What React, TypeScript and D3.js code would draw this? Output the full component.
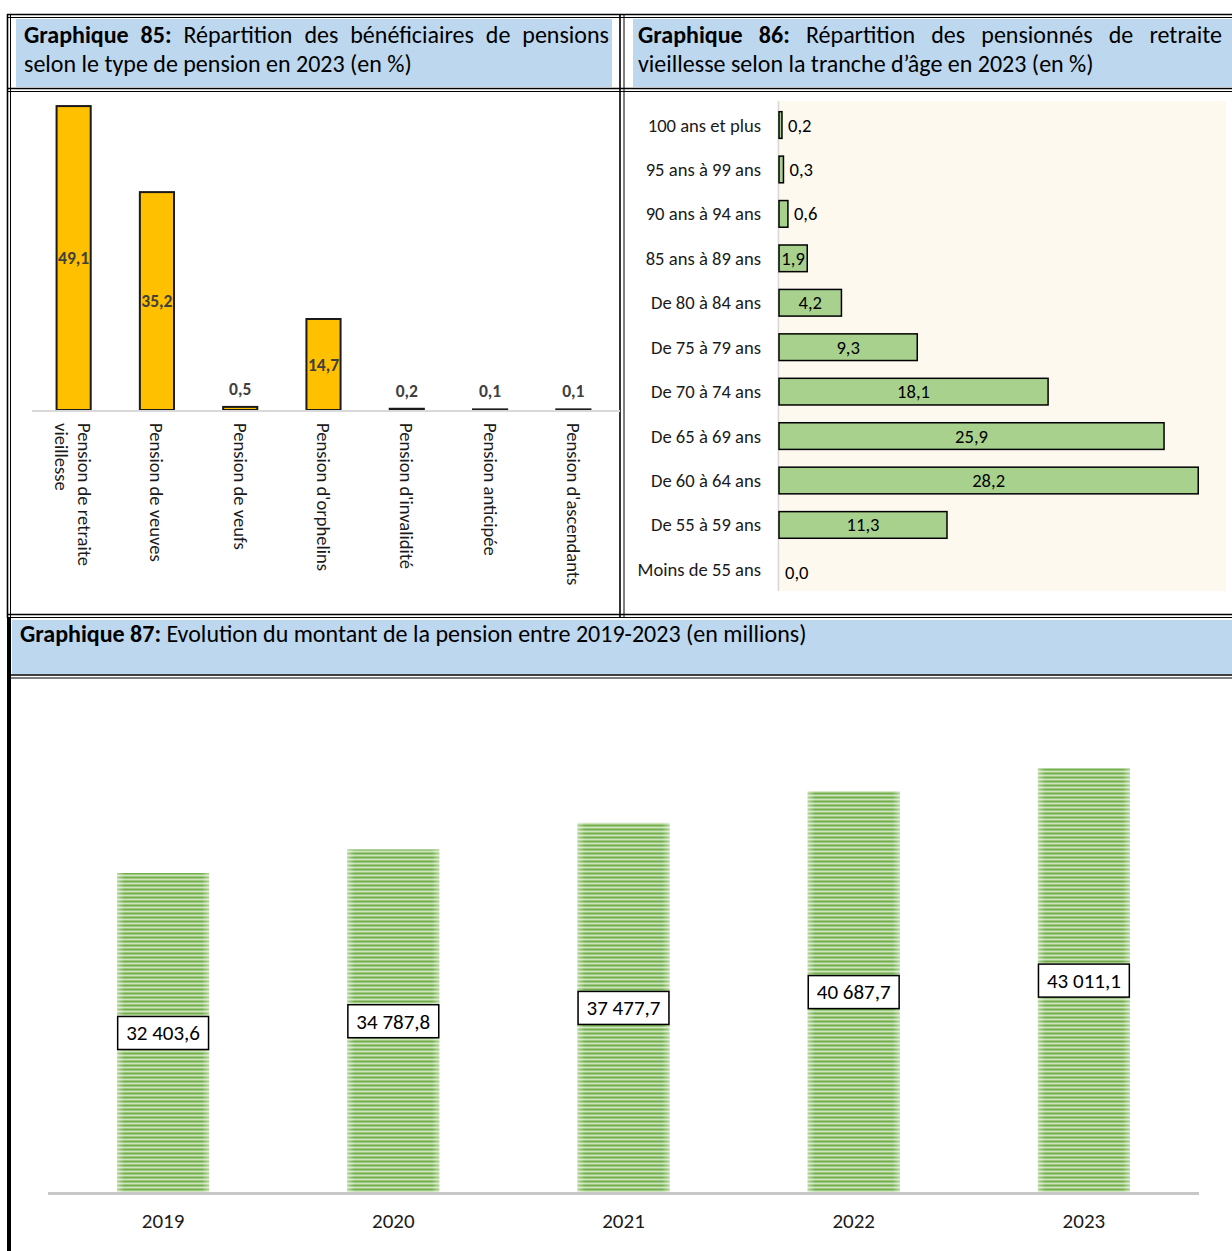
import React, { useEffect, useRef } from "react";
import * as d3 from "d3";

// ---------- DATA ----------
const typeCategories = [
  "Pension de retraite vieillesse",
  "Pension de veuves",
  "Pension de veufs",
  "Pension d'orphelins",
  "Pension d'invalidité",
  "Pension anticipée",
  "Pension d'ascendants",
];
const typeValues = [49.1, 35.2, 0.5, 14.7, 0.2, 0.1, 0.1];

const ageCategories = [
  "100 ans et plus",
  "95 ans à 99 ans",
  "90 ans à 94 ans",
  "85 ans à 89 ans",
  "De 80 à 84 ans",
  "De 75 à 79 ans",
  "De 70 à 74 ans",
  "De 65 à 69 ans",
  "De 60 à 64 ans",
  "De 55 à 59 ans",
  "Moins de 55 ans",
];
const ageValues = [0.2, 0.3, 0.6, 1.9, 4.2, 9.3, 18.1, 25.9, 28.2, 11.3, 0.0];

const years = ["2019", "2020", "2021", "2022", "2023"];
const amounts = [32403.6, 34787.8, 37477.7, 40687.7, 43011.1];

const title85 = ["Graphique 85:", " Répartition des bénéficiaires de pensions", "selon le type de pension en 2023 (en %)"];
const title86 = ["Graphique 86:", " Répartition des pensionnés de retraite", "vieillesse selon la tranche d’âge en 2023 (en %)"];
const title87 = ["Graphique 87:", " Evolution du montant de la pension entre 2019-2023 (en millions)"];

// ---------- STYLE ----------
const FONT = "Carlito, Calibri, Lato, 'Open Sans', sans-serif";
const BLUE = "#bdd7ee";
const fr = d3.formatLocale({ decimal: ",", thousands: " ", grouping: [3], currency: ["", " €"] });
const f1 = fr.format(".1f");
const fAmt = fr.format(",.1f");

function wrap(label: string, maxChars: number): string[] {
  const words = label.split(" ");
  const lines: string[] = [];
  let cur = "";
  words.forEach((w) => {
    const t = cur ? cur + " " + w : w;
    if (t.length > maxChars && cur) {
      lines.push(cur);
      cur = w;
    } else cur = t;
  });
  if (cur) lines.push(cur);
  return lines;
}

export default function App() {
  const ref = useRef<SVGSVGElement>(null);

  useEffect(() => {
    const run = () => {
      const svg = d3.select(ref.current);
      svg.selectAll<SVGTextElement, unknown>("text[data-jw]").each(function () {
        const el = this;
        const target = +(el.getAttribute("data-jw") || 0);
        el.setAttribute("word-spacing", "0");
        const natural = el.getComputedTextLength();
        const spaces = (el.textContent || "").split(" ").length - 1;
        if (spaces > 0) el.setAttribute("word-spacing", String((target - natural) / spaces));
      });
      svg.selectAll<SVGGElement, unknown>("g.vbox").each(function () {
        const g = d3.select(this);
        const t = g.select<SVGTextElement>("text").node();
        if (!t) return;
        const bb = t.getBBox();
        const cy = +(g.attr("data-cy") || 0);
        g.select("rect")
          .attr("x", bb.x - 8.5)
          .attr("width", bb.width + 17)
          .attr("y", cy - 16.5)
          .attr("height", 33);
      });
    };
    if ((document as any).fonts && (document as any).fonts.ready) {
      (document as any).fonts.ready.then(run);
    }
    run();
  }, []);

  // ----- Chart 85 scales -----
  const x85 = d3.scaleBand<string>().domain(typeCategories).range([32, 615]).paddingInner(0.59).paddingOuter(0.295);
  const y85 = d3.scaleLinear().domain([0, 50]).range([410, 100.5]);

  // ----- Chart 86 scales -----
  const y86 = d3.scaleBand<string>().domain(ageCategories).range([102.8, 591.6]).paddingInner(0.4).paddingOuter(0.2);
  const x86 = d3.scaleLinear().domain([0, 30]).range([779, 1225]);

  // ----- Chart 87 scales -----
  const x87 = d3.scaleBand<string>().domain(years).range([48, 1199]).paddingInner(0.6).paddingOuter(0.3);
  const y87 = d3.scaleLinear().domain([0, 50000]).range([1193, 699.2]);

  const dbl = (x1: number, y1: number, x2: number, y2: number, gap = 3) => {
    const horiz = y1 === y2;
    return (
      <g>
        <line x1={x1} y1={y1} x2={x2} y2={y2} stroke="#000" strokeWidth={1.6} />
        <line
          x1={horiz ? x1 : x1 + gap}
          y1={horiz ? y1 + gap : y1}
          x2={horiz ? x2 : x2 + gap}
          y2={horiz ? y2 + gap : y2}
          stroke="#000"
          strokeWidth={1}
        />
      </g>
    );
  };

  const TF = 24; // title font
  const LF = 18.6; // label font

  return (
    <div style={{ position: "absolute", left: 0, top: 0 }}>
      <svg ref={ref} width={1232} height={1251} style={{ display: "block", fontFamily: FONT }}>
        <defs>
          <pattern id="stripes" patternUnits="userSpaceOnUse" width={8} height={4}>
            <rect x={0} y={0} width={8} height={4} fill="#cde5bd" />
            <rect x={0} y={0.5} width={8} height={2} fill="#72ae4a" />
          </pattern>
          <linearGradient id="edgeFade" x1="0" x2="1" y1="0" y2="0">
            <stop offset="0" stopColor="#fff" stopOpacity={0.45} />
            <stop offset="0.08" stopColor="#fff" stopOpacity={0} />
            <stop offset="0.92" stopColor="#fff" stopOpacity={0} />
            <stop offset="1" stopColor="#fff" stopOpacity={0.45} />
          </linearGradient>
        </defs>
        <rect x={0} y={0} width={1232} height={1251} fill="#fff" />

        {/* header backgrounds */}
        <rect x={16} y={19} width={596} height={68} fill={BLUE} />
        <rect x={633} y={19} width={599} height={68} fill={BLUE} />
        <rect x={12} y={620} width={1220} height={54} fill={BLUE} />

        {/* borders */}
        {dbl(7, 14.5, 1232, 14.5)}
        {dbl(7, 88.5, 1232, 88.5)}
        {dbl(7, 614.5, 1232, 614.5)}
        {dbl(7, 675, 1232, 675)}
        {dbl(7.5, 14, 7.5, 618)}
        {dbl(620, 14, 620, 618, 4)}
        <line x1={9} y1={618} x2={9} y2={1251} stroke="#000" strokeWidth={4} />

        {/* titles */}
        <text x={24} y={43} fontSize={TF} fill="#000" data-jw={585}>
          <tspan fontWeight="bold">{title85[0]}</tspan>
          <tspan>{title85[1]}</tspan>
        </text>
        <text x={24} y={72} fontSize={TF} fill="#000">{title85[2]}</text>
        <text x={638} y={43} fontSize={TF} fill="#000" data-jw={584}>
          <tspan fontWeight="bold">{title86[0]}</tspan>
          <tspan>{title86[1]}</tspan>
        </text>
        <text x={638} y={72} fontSize={TF} fill="#000">{title86[2]}</text>
        <text x={20} y={642} fontSize={TF} fill="#000">
          <tspan fontWeight="bold">{title87[0]}</tspan>
          <tspan>{title87[1]}</tspan>
        </text>

        {/* ---------- Chart 85 ---------- */}
        <g>
          {typeCategories.map((c, i) => {
            const v = typeValues[i];
            const x = x85(c) || 0;
            const bw = x85.bandwidth();
            const top = y85(v);
            return (
              <rect key={c} x={x} y={top} width={bw} height={y85(0) - top} fill="#ffc000" stroke="#1a1a1a" strokeWidth={2} />
            );
          })}
          <line x1={32} x2={620} y1={411} y2={411} stroke="#d9d9d9" strokeWidth={2} />
          {typeCategories.map((c, i) => {
            const v = typeValues[i];
            const cx = (x85(c) || 0) + x85.bandwidth() / 2;
            const top = y85(v);
            const inside = v > 10;
            return (
              <text
                key={c}
                x={cx}
                y={inside ? (top + y85(0)) / 2 : top - 12}
                dy={inside ? "0.35em" : 0}
                textAnchor="middle"
                fontSize={17.5}
                fontWeight="bold"
                fill="#404040"
              >
                {f1(v)}
              </text>
            );
          })}
          {typeCategories.map((c) => {
            const cx = (x85(c) || 0) + x85.bandwidth() / 2;
            const lines = wrap(c, 20);
            const offs = lines.length === 1 ? [0] : [10.5, -12.5];
            return (
              <g key={c}>
                {lines.map((l, j) => (
                  <text
                    key={j}
                    transform={`translate(${cx + offs[j]},${423}) rotate(90)`}
                    dy="0.35em"
                    fontSize={LF}
                    fill="#1a1a1a"
                  >
                    {l}
                  </text>
                ))}
              </g>
            );
          })}
        </g>

        {/* ---------- Chart 86 ---------- */}
        <g>
          <rect x={777} y={101} width={449} height={490} fill="#fef9ee" />
          <line x1={778.5} x2={778.5} y1={101} y2={591} stroke="#d9d9d9" strokeWidth={1.5} />
          {ageCategories.map((c, i) => {
            const v = ageValues[i];
            const y = y86(c) || 0;
            const w = x86(v) - x86(0);
            return (
              <g key={c}>
                {v > 0 && (
                  <rect x={x86(0)} y={y} width={w} height={y86.bandwidth()} fill="#a9d18e" stroke="#000" strokeWidth={1.5} />
                )}
              </g>
            );
          })}
          {ageCategories.map((c, i) => {
            const v = ageValues[i];
            const cy = (y86(c) || 0) + y86.bandwidth() / 2;
            const inside = v >= 1.5;
            return (
              <g key={c}>
                <text x={761} y={cy} dy="0.35em" textAnchor="end" fontSize={LF} fill="#1a1a1a">
                  {c}
                </text>
                <text
                  x={inside ? (x86(0) + x86(v)) / 2 : x86(v) + 6}
                  y={cy + (v === 0 ? 3 : 0)}
                  dy="0.35em"
                  textAnchor={inside ? "middle" : "start"}
                  fontSize={LF}
                  fill="#000"
                >
                  {f1(v)}
                </text>
              </g>
            );
          })}
        </g>

        {/* ---------- Chart 87 ---------- */}
        <g>
          {years.map((yr, i) => {
            const v = amounts[i];
            const x = x87(yr) || 0;
            const top = y87(v);
            const h = y87(0) - top;
            return (
              <g key={yr}>
                <rect x={x} y={top} width={x87.bandwidth()} height={h} fill="url(#stripes)" />
                <rect x={x} y={top} width={x87.bandwidth()} height={h} fill="url(#edgeFade)" />
              </g>
            );
          })}
          <line x1={48} x2={1199} y1={1193.5} y2={1193.5} stroke="#c8c8c8" strokeWidth={3} />
          {years.map((yr, i) => {
            const v = amounts[i];
            const cx = (x87(yr) || 0) + x87.bandwidth() / 2;
            const cy = (y87(v) + y87(0)) / 2;
            return (
              <g key={yr} className="vbox" data-cy={cy}>
                <rect x={cx - 46} y={cy - 16.5} width={92} height={33} fill="#fff" stroke="#000" strokeWidth={1.5} />
                <text x={cx} y={cy} dy="0.35em" textAnchor="middle" fontSize={21} fill="#000">
                  {fAmt(v)}
                </text>
              </g>
            );
          })}
          {years.map((yr) => {
            const cx = (x87(yr) || 0) + x87.bandwidth() / 2;
            return (
              <text key={yr} x={cx} y={1221} dy="0.35em" textAnchor="middle" fontSize={21} fill="#1a1a1a">
                {yr}
              </text>
            );
          })}
        </g>
      </svg>
    </div>
  );
}
